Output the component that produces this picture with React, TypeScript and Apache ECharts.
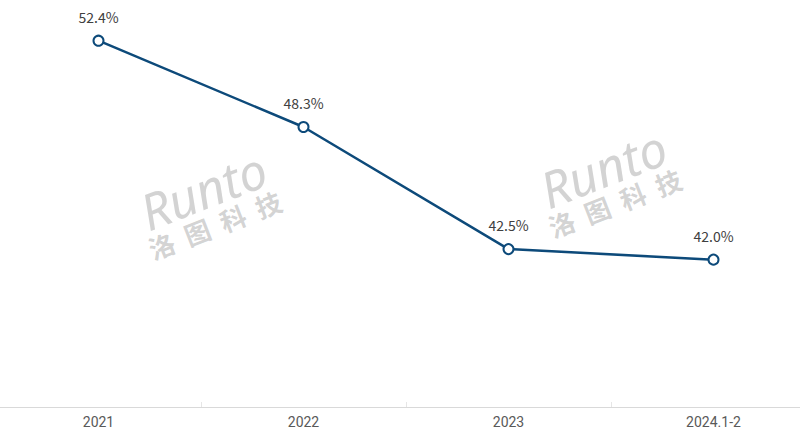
import React, { useEffect, useRef } from "react";
import * as echarts from "echarts";

const categories = ["2021", "2022", "2023", "2024.1-2"];
const shareValues = [52.4, 48.3, 42.5, 42.0];
const wmChars = ["洛", "图", "科", "技"];

const WM_FILL = "rgba(150,150,150,0.42)";

function watermark(x: number, y: number) {
  const chars = wmChars.map((c, i) => ({
    type: "text",
    x: 7 + i * 38,
    y: 36,
    style: {
      text: c,
      fill: WM_FILL,
      font: "bold 26px 'Noto Sans CJK SC', sans-serif",
      textAlign: "center",
      textVerticalAlign: "middle",
    },
  }));
  return {
    type: "group",
    x,
    y,
    rotation: 0.37,
    silent: true,
    children: [
      {
        type: "text",
        x: 0,
        y: 0,
        style: {
          text: "Runto",
          fill: WM_FILL,
          font: "italic 50px 'Noto Sans', sans-serif",
          textVerticalAlign: "middle",
        },
      },
      ...chars,
    ],
  };
}

export default function App() {
  const ref = useRef<HTMLDivElement>(null);
  useEffect(() => {
    if (!ref.current) return;
    document.body.style.margin = "0";
    document.body.style.overflow = "hidden";
    const chart = echarts.init(ref.current, undefined, { renderer: "svg" });
    chart.setOption({
      animation: false,
      backgroundColor: "#ffffff",
      grid: { left: 0, right: 0, top: 7, bottom: 31, containLabel: false },
      xAxis: {
        type: "category",
        data: categories,
        boundaryGap: true,
        axisLine: { lineStyle: { color: "#d9d9d9", width: 1 } },
        axisTick: { show: true, lineStyle: { color: "#e6e6e6" }, length: 5, inside: true },
        axisLabel: {
          color: "#595959",
          fontSize: 14,
          fontFamily: "'Liberation Sans Narrow', 'Roboto', sans-serif",
          margin: 8,
        },
      },
      yAxis: {
        type: "value",
        min: 35,
        max: 54,
        show: false,
        splitLine: { show: false },
      },
      graphic: [watermark(146, 214), watermark(546, 192)],
      series: [
        {
          type: "line",
          data: shareValues,
          symbol: "emptyCircle",
          symbolSize: 10,
          lineStyle: { color: "#0d4a7a", width: 2.5 },
          itemStyle: { color: "#0d4a7a", borderWidth: 2.5 },
          label: {
            show: true,
            position: "top",
            distance: 11,
            color: "#404040",
            fontSize: 14,
            fontFamily: "'Noto Sans CJK SC', sans-serif",
            formatter: (p: any) => p.value.toFixed(1) + "%",
          },
        },
      ],
    });
    return () => chart.dispose();
  }, []);
  return (
    <div style={{ position: "fixed", left: 0, top: 0, width: 800, height: 438, overflow: "hidden", background: "#fff" }}>
      <div ref={ref} style={{ position: "absolute", left: -4, top: 0, width: 820, height: 438 }} />
    </div>
  );
}
